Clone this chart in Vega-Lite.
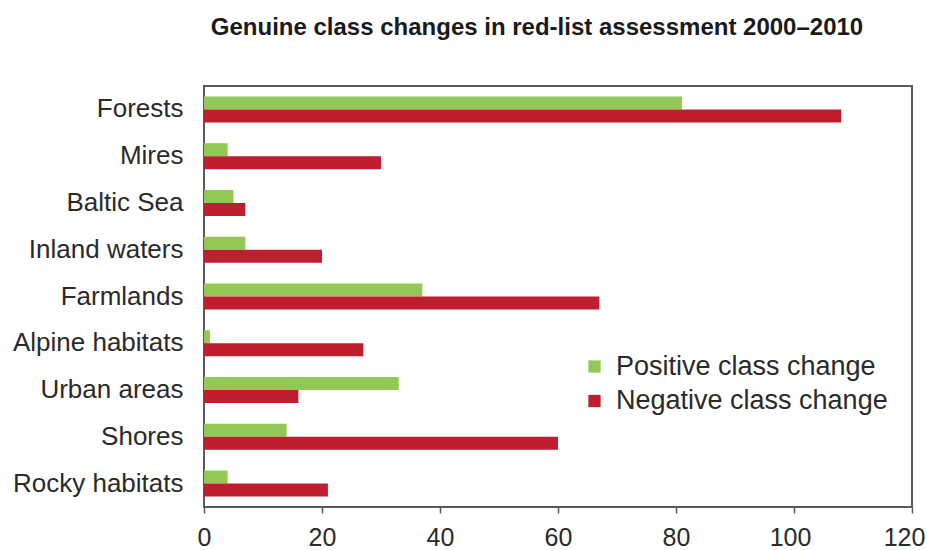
{
  "$schema": "https://vega.github.io/schema/vega-lite/v6.json",
  "autosize": "none",
  "width": 708,
  "height": 421,
  "padding": {"left": 204, "top": 86, "right": 15, "bottom": 43},
  "background": "white",
  "title": {
    "text": "Genuine class changes in red-list assessment 2000–2010",
    "font": "Liberation Sans, Arial",
    "fontSize": 24,
    "fontWeight": "bold",
    "color": "#1a1a1a",
    "anchor": "middle",
    "dx": -21,
    "offset": 46
  },
  "config": {
    "view": {"stroke": "#5a5a5a", "strokeWidth": 2},
    "font": "Liberation Sans, Arial"
  },
  "data": {
    "values": [
      {"habitat": "Forests", "type": "Positive class change", "value": 81},
      {"habitat": "Forests", "type": "Negative class change", "value": 108},
      {"habitat": "Mires", "type": "Positive class change", "value": 4},
      {"habitat": "Mires", "type": "Negative class change", "value": 30},
      {"habitat": "Baltic Sea", "type": "Positive class change", "value": 5},
      {"habitat": "Baltic Sea", "type": "Negative class change", "value": 7},
      {"habitat": "Inland waters", "type": "Positive class change", "value": 7},
      {"habitat": "Inland waters", "type": "Negative class change", "value": 20},
      {"habitat": "Farmlands", "type": "Positive class change", "value": 37},
      {"habitat": "Farmlands", "type": "Negative class change", "value": 67},
      {"habitat": "Alpine habitats", "type": "Positive class change", "value": 1},
      {"habitat": "Alpine habitats", "type": "Negative class change", "value": 27},
      {"habitat": "Urban areas", "type": "Positive class change", "value": 33},
      {"habitat": "Urban areas", "type": "Negative class change", "value": 16},
      {"habitat": "Shores", "type": "Positive class change", "value": 14},
      {"habitat": "Shores", "type": "Negative class change", "value": 60},
      {"habitat": "Rocky habitats", "type": "Positive class change", "value": 4},
      {"habitat": "Rocky habitats", "type": "Negative class change", "value": 21}
    ]
  },
  "mark": {"type": "bar"},
  "encoding": {
    "y": {
      "field": "habitat",
      "type": "nominal",
      "sort": null,
      "scale": {"paddingInner": 0.444, "paddingOuter": 0.224},
      "axis": {
        "title": null,
        "domain": false,
        "ticks": false,
        "labelFontSize": 26,
        "labelColor": "#2a2a2a",
        "labelPadding": 21,
        "labelLimit": 250
      }
    },
    "yOffset": {
      "field": "type",
      "type": "nominal",
      "sort": ["Positive class change", "Negative class change"]
    },
    "x": {
      "field": "value",
      "type": "quantitative",
      "scale": {"domain": [0, 120], "nice": false},
      "axis": {
        "title": null,
        "grid": false,
        "domain": false,
        "values": [0, 20, 40, 60, 80, 100, 120],
        "tickColor": "#5a5a5a",
        "tickWidth": 1.5,
        "tickSize": 6,
        "labelFontSize": 25,
        "labelColor": "#2a2a2a",
        "labelPadding": 12,
        "labelFlush": false,
        "labelOverlap": false,
        "labelOffset": {"expr": "datum.value == 120 ? -8 : (datum.value == 100 ? -4 : 0)"}
      }
    },
    "color": {
      "field": "type",
      "type": "nominal",
      "sort": ["Positive class change", "Negative class change"],
      "scale": {
        "domain": ["Positive class change", "Negative class change"],
        "range": ["#92c856", "#be1e2d"]
      },
      "legend": {
        "title": null,
        "orient": "none",
        "legendX": 377,
        "legendY": 267,
        "symbolType": "square",
        "symbolSize": 150,
        "symbolStrokeWidth": 0,
        "labelFontSize": 27,
        "labelColor": "#2a2a2a",
        "labelOffset": 8,
        "rowPadding": 6.5,
        "labelLimit": 400
      }
    }
  }
}
